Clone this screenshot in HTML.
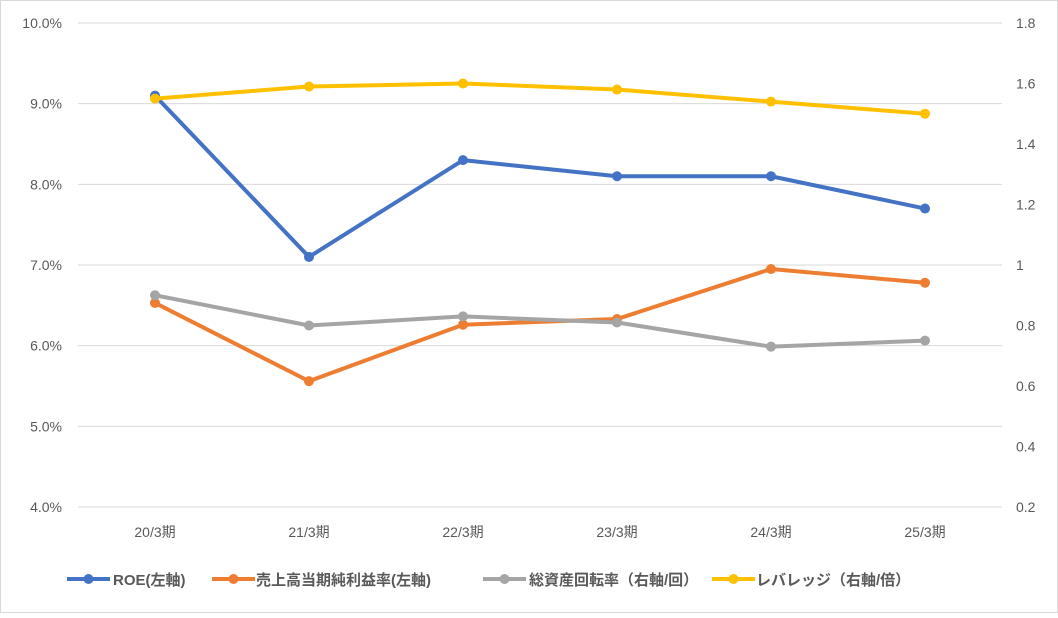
<!DOCTYPE html>
<html><head><meta charset="utf-8"><style>
body{margin:0;background:#fff}
svg text{font-family:"Liberation Sans","Noto Sans CJK JP",sans-serif}
</style></head><body>
<svg id="c" width="1058" height="613" xmlns="http://www.w3.org/2000/svg">
<rect x="0.5" y="0.5" width="1057" height="612" fill="#fff" stroke="#d9d9d9"/>
<g id="grid"></g><g id="axes"></g><g id="series"></g><g id="legend"></g>
</svg>
<script>
const categories=["20/3期","21/3期","22/3期","23/3期","24/3期","25/3期"];
const roe=[9.1,7.1,8.3,8.1,8.1,7.7];
const margin=[6.53,5.56,6.26,6.33,6.95,6.78];
const turnover=[0.90,0.80,0.83,0.81,0.73,0.75];
const leverage=[1.55,1.59,1.60,1.58,1.54,1.50];
const leftTicks=[4,5,6,7,8,9,10];
const rightTicks=[0.2,0.4,0.6,0.8,1,1.2,1.4,1.6,1.8];
const NS="http://www.w3.org/2000/svg";
const X0=78,X1=1002,YT=23,YB=507;
const xs=i=>X0+(X1-X0)/categories.length*(i+0.5);
const yl=v=>YB-(v-4)/6*(YB-YT);
const yr=v=>YB-(v-0.2)/1.6*(YB-YT);
function mk(p,t,a){const e=document.createElementNS(NS,t);for(const k in a)e.setAttribute(k,a[k]);p.appendChild(e);return e;}
const g=document.getElementById('grid'),ax=document.getElementById('axes'),s=document.getElementById('series'),lg=document.getElementById('legend');
leftTicks.forEach(v=>{
 const l=mk(g,'line',{x1:X0,x2:X1,y1:yl(v),y2:yl(v),stroke:'#d9d9d9'});
 
 
 const t=mk(ax,'text',{x:62,y:yl(v)+5,'text-anchor':'end','font-size':14,fill:'#595959'});t.textContent=v.toFixed(1)+'%';
 
 
});
rightTicks.forEach(v=>{
 const t=mk(ax,'text',{x:1016,y:yr(v)+5,'font-size':14,fill:'#595959'});t.textContent=String(v);
 
 
});
categories.forEach((c,i)=>{
 const t=mk(ax,'text',{x:xs(i),y:537,'text-anchor':'middle','font-size':14,fill:'#595959'});t.textContent=c;
 
 
});
const defs=[[roe,yl,'#4472c4','roe-line'],[margin,yl,'#ed7d31','margin-line'],[turnover,yr,'#a5a5a5','turnover-line'],[leverage,yr,'#ffc000','leverage-line']];
defs.forEach(([d,f,col,n])=>{
 const p=mk(s,'polyline',{points:d.map((v,i)=>xs(i)+','+f(v)).join(' '),fill:'none',stroke:col,'stroke-width':4,'stroke-linejoin':'round'});
 
 
 d.forEach((v,i)=>{const c=mk(s,'circle',{cx:xs(i),cy:f(v),r:5,fill:col});
  
  });
});
const leg=[[67,113,'#4472c4','ROE(左軸)'],[212,256,'#ed7d31','売上高当期純利益率(左軸)'],[483,529,'#a5a5a5','総資産回転率（右軸/回）'],[712,756,'#ffc000','レバレッジ（右軸/倍）']];
leg.forEach(([lx,tx,col,label])=>{
 const gi=mk(lg,'g',{});
 
 
 mk(gi,'line',{x1:lx,x2:lx+43,y1:579,y2:579,stroke:col,'stroke-width':4});
 mk(gi,'circle',{cx:lx+21.5,cy:579,r:5,fill:col});
 const t=mk(gi,'text',{x:tx,y:585,'font-size':15,'font-weight':'bold',fill:'#595959'});t.textContent=label;
});
</script>
</body></html>
